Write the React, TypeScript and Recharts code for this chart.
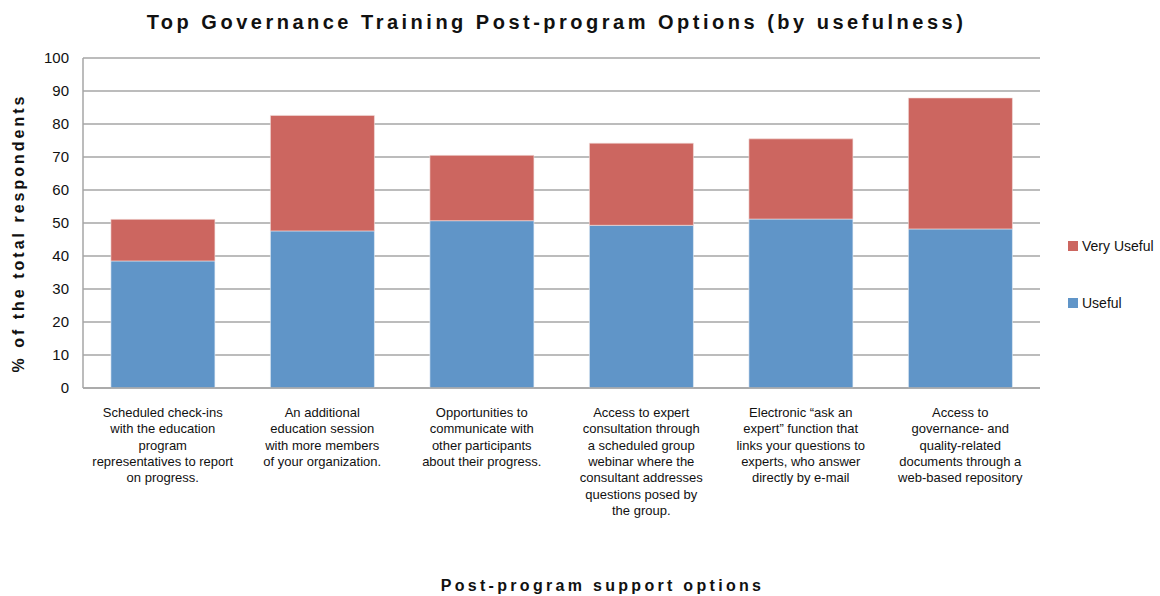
import { BarChart, Bar, XAxis, YAxis, CartesianGrid, Legend } from 'recharts'

// Category labels, pre-broken into lines as in the source chart
const categories = [
  'Scheduled check-ins\nwith the education\nprogram\nrepresentatives to report\non progress.',
  'An additional\neducation session\nwith more members\nof your organization.',
  'Opportunities to\ncommunicate with\nother participants\nabout their progress.',
  'Access to expert\nconsultation through\na scheduled group\nwebinar where the\nconsultant addresses\nquestions posed by\nthe group.',
  'Electronic \u201cask an\nexpert\u201d function that\nlinks your questions to\nexperts, who answer\ndirectly by e-mail',
  'Access to\ngovernance- and\nquality-related\ndocuments through a\nweb-based repository',
]

const useful     = [38.5, 47.6, 50.7, 49.3, 51.2, 48.2]
const veryUseful = [12.6, 35.0, 19.8, 24.9, 24.3, 39.7]

const yTicks = [0, 10, 20, 30, 40, 50, 60, 70, 80, 90, 100]

const COLORS = {
  useful:     '#6095c8',
  veryUseful: '#cc6660',
  grid:       '#a6a6a6',
}

const data = categories.map((name, i) => ({
  name,
  useful: useful[i],
  veryUseful: veryUseful[i],
}))

const CategoryTick = ({ x, y, payload }: { x?: number; y?: number; payload?: { value: string } }) => {
  const lines = (payload?.value ?? '').split('\n')
  return (
    <text
      x={x}
      y={(y ?? 0) + 29}
      textAnchor="middle"
      fontSize={13}
      fontFamily="Liberation Sans, Arial, sans-serif"
      fill="#111"
    >
      {lines.map((line, i) => (
        <tspan key={i} x={x} dy={i === 0 ? 0 : 16.3}>
          {line}
        </tspan>
      ))}
    </text>
  )
}

const LegendContent = () => (
  <div style={{ fontFamily: 'Liberation Sans, Arial, sans-serif', fontSize: 14, color: '#111' }}>
    {[
      { label: 'Very Useful', color: COLORS.veryUseful },
      { label: 'Useful', color: COLORS.useful },
    ].map((item, i) => (
      <div key={item.label} style={{ display: 'flex', alignItems: 'center', marginTop: i === 0 ? 0 : 41 }}>
        <span style={{ width: 10, height: 10, background: item.color, display: 'inline-block', marginRight: 4 }} />
        <span>{item.label}</span>
      </div>
    ))}
  </div>
)

const boldLabel: React.CSSProperties = {
  position: 'absolute',
  fontFamily: 'Liberation Sans, Arial, sans-serif',
  fontWeight: 'bold',
  color: '#111',
  whiteSpace: 'nowrap',
}

export default function App() {
  return (
    <div style={{ position: 'absolute', left: 0, top: 0, width: 1160, height: 596, background: '#fff' }}>
      <div style={{ ...boldLabel, fontSize: 20, letterSpacing: 3.5, left: 0, width: 1113, top: 11, textAlign: 'center' }}>
        Top Governance Training Post-program Options (by usefulness)
      </div>
      <div
        style={{
          ...boldLabel,
          fontSize: 16,
          letterSpacing: 3,
          left: 19,
          top: 233,
          transform: 'translate(-50%, -50%) rotate(-90deg)',
        }}
      >
        % of the total respondents
      </div>
      <div style={{ ...boldLabel, fontSize: 16, letterSpacing: 3.3, left: 0, width: 1205, top: 577, textAlign: 'center' }}>
        Post-program support options
      </div>
      <BarChart
        width={1160}
        height={596}
        data={data}
        margin={{ top: 58, right: 28, bottom: 58, left: 43 }}
        barCategoryGap="17.5%"
      >
        <CartesianGrid horizontal vertical={false} stroke={COLORS.grid} strokeWidth={1.5} />
        <XAxis
          dataKey="name"
          interval={0}
          height={150}
          tickLine={false}
          tickSize={0}
          tickMargin={0}
          axisLine={{ stroke: COLORS.grid, strokeWidth: 1.5 }}
          tick={<CategoryTick />}
        />
        <YAxis
          width={40}
          domain={[0, 100]}
          ticks={yTicks}
          interval={0}
          tickLine={false}
          tickSize={0}
          tickMargin={14}
          axisLine={{ stroke: COLORS.grid, strokeWidth: 1.5 }}
          tick={{ fontSize: 15, fill: '#111', fontFamily: 'Liberation Sans, Arial, sans-serif' }}
        />
        <Legend
          layout="vertical"
          align="right"
          verticalAlign="top"
          content={<LegendContent />}
          wrapperStyle={{ left: 1068, top: 238, width: 92 }}
        />
        <Bar dataKey="useful" name="Useful" stackId="a" fill={COLORS.useful} stroke="#e8eef6" strokeWidth={0.6} isAnimationActive={false} />
        <Bar dataKey="veryUseful" name="Very Useful" stackId="a" fill={COLORS.veryUseful} stroke="#f3e0de" strokeWidth={0.6} isAnimationActive={false} />
      </BarChart>
    </div>
  )
}
